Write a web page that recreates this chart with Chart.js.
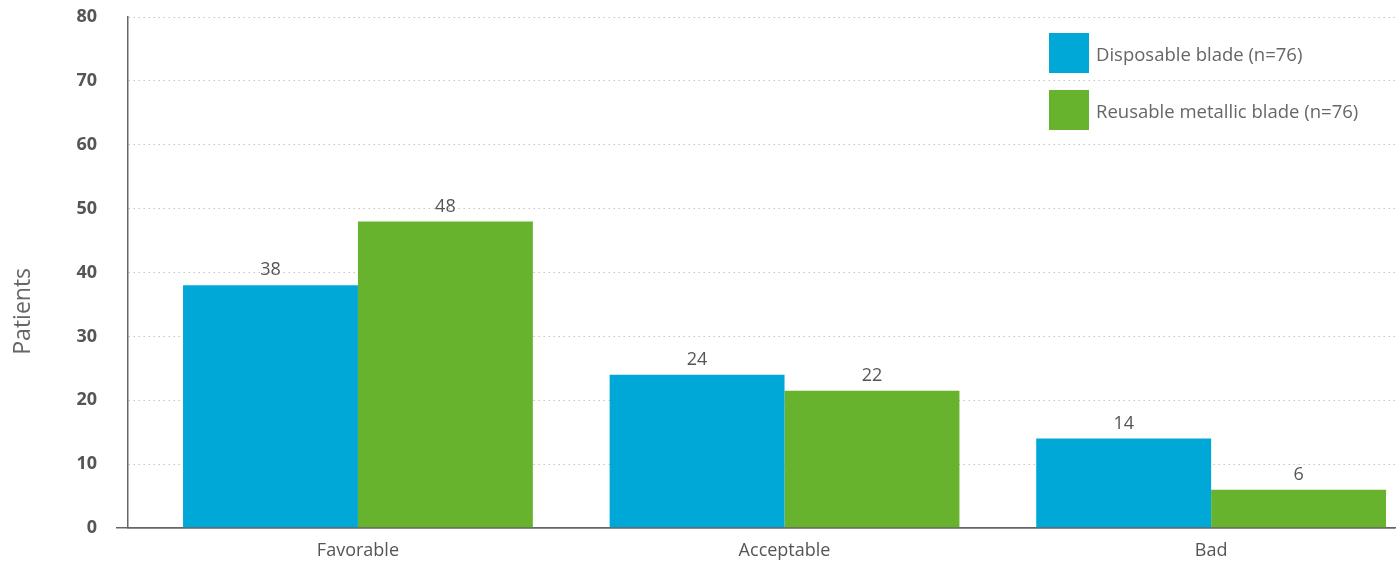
<!DOCTYPE html>
<html>
<head>
<meta charset="utf-8">
<script src="https://cdn.jsdelivr.net/npm/chart.js@4/dist/chart.umd.min.js"></script>
<style>
  body { margin: 0; background: #fff; }
  #wrap { position: relative; width: 1400px; height: 562px; }
  .legend { position: absolute; left: 1049px; top: 33px; font-family: "Open Sans", sans-serif; font-size: 18.5px; color: #666; }
  .legend div { display: flex; align-items: center; height: 40px; margin-bottom: 17px; }
  .legend span.box { width: 40px; height: 40px; margin-right: 7px; }
</style>
</head>
<body>
<div id="wrap">
  <canvas id="chart" width="1400" height="562"></canvas>
  <div class="legend" id="legend"></div>
</div>
<script>
const categories = ['Favorable', 'Acceptable', 'Bad'];
const seriesNames = ['Disposable blade (n=76)', 'Reusable metallic blade (n=76)'];
const disposable = [38, 24, 14];
const reusable = [48, 21.5, 6];
const yTicks = [0, 10, 20, 30, 40, 50, 60, 70, 80];

const colors = ['#00a8d7', '#67b32e'];

const legend = document.getElementById('legend');
seriesNames.forEach((name, i) => {
  const row = document.createElement('div');
  row.innerHTML = '<span class="box" style="background:' + colors[i] + '"></span>' + name;
  legend.appendChild(row);
});

// value above each bar
const valueLabels = {
  id: 'valueLabels',
  afterDatasetsDraw(chart) {
    const ctx = chart.ctx;
    ctx.save();
    ctx.font = '18px "Open Sans", sans-serif';
    ctx.fillStyle = '#555';
    ctx.textAlign = 'center';
    ctx.textBaseline = 'middle';
    chart.data.datasets.forEach((ds, di) => {
      chart.getDatasetMeta(di).data.forEach((bar, i) => {
        ctx.fillText(Math.round(ds.data[i].y), bar.x, bar.y - 15);
      });
    });
    ctx.restore();
  }
};

const toPoints = arr => arr.map((v, i) => ({ x: i, y: v }));

new Chart(document.getElementById('chart'), {
  type: 'bar',
  data: {
    datasets: [
      { label: seriesNames[0], data: toPoints(disposable), backgroundColor: colors[0] },
      { label: seriesNames[1], data: toPoints(reusable), backgroundColor: colors[1] }
    ]
  },
  plugins: [valueLabels],
  options: {
    responsive: false,
    animation: false,
    layout: { padding: { top: 17, right: 5, left: 0, bottom: 0 } },
    datasets: { bar: { categoryPercentage: 0.82, barPercentage: 1.0 } },
    plugins: { legend: { display: false }, tooltip: { enabled: false } },
    scales: {
      x: {
        type: 'linear',
        offset: false,
        min: -0.539,
        max: 2.431,
        afterBuildTicks: s => { s.ticks = categories.map((c, i) => ({ value: i })); },
        afterFit: s => { s.height = 34; },
        ticks: {
          callback: v => categories[v],
          font: { family: 'Open Sans', size: 18 },
          color: '#555',
          padding: 4,
          maxRotation: 0
        },
        grid: { display: false },
        border: { color: '#666', width: 1.5 }
      },
      y: {
        min: 0,
        max: 80,
        afterBuildTicks: s => { s.ticks = yTicks.map(v => ({ value: v })); },
        afterFit: s => { s.width = 128; s.paddingTop = 0; s.paddingBottom = 0; },
        ticks: {
          font: { family: 'Open Sans', size: 18, weight: 'bold' },
          color: '#555',
          padding: 19
        },
        grid: {
          color: c => c.tick && c.tick.value === 0 ? '#666' : '#c4c4c4',
          lineWidth: c => c.tick && c.tick.value === 0 ? 1.5 : 1,
          tickLength: 12,
          tickColor: c => c.tick && c.tick.value === 0 ? '#666' : 'rgba(0,0,0,0)'
        },
        border: {
          color: '#666',
          width: 1.5,
          dash: c => c.tick && c.tick.value === 0 ? [] : [1.5, 3.5]
        },
        title: {
          display: true,
          // trailing spaces push the rotated title a little lower, like the original
          text: 'Patients             ',
          font: { family: 'Open Sans', size: 23 },
          color: '#666',
          padding: { top: 10, bottom: 6 }
        }
      }
    }
  }
});
</script>
</body>
</html>
